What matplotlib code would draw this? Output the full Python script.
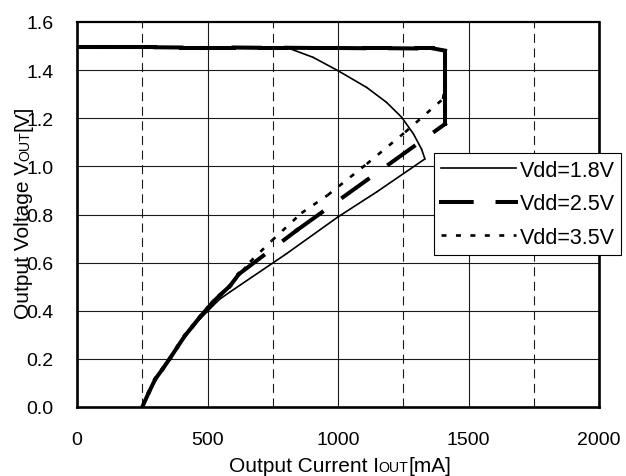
import matplotlib
matplotlib.use("Agg")
import matplotlib.pyplot as plt
from matplotlib.collections import LineCollection
from matplotlib.lines import Line2D
from matplotlib.transforms import IdentityTransform
from matplotlib.font_manager import FontProperties
import numpy as np

plt.rcParams["font.family"] = ["Liberation Sans", "DejaVu Sans"]
plt.rcParams["lines.scale_dashes"] = False

# ---- data: output current [mA] vs output voltage [V], traced from the short-circuit end ----
i_18 = [250, 275, 299, 328, 356, 385, 414, 443, 471, 498, 520, 548, 586, 800, 1000, 1150,
        1333, 1320, 1289, 1244, 1186, 1110, 1001, 905, 816, 600, 400, 200, 0]
v_18 = [0.0, 0.058, 0.11, 0.155, 0.198, 0.246, 0.292, 0.33, 0.366, 0.395, 0.42, 0.449, 0.478, 0.635, 0.79, 0.895,
        1.031, 1.072, 1.135, 1.204, 1.266, 1.328, 1.397, 1.453, 1.489, 1.491, 1.493, 1.494, 1.495]

i_25 = [250, 275, 300, 328, 356, 385, 414, 443, 471, 500, 521, 548, 586, 620, 843,
        1410, 1410, 1410, 1410, 1410, 1410, 1410, 1365, 1300, 1200, 1100, 1000, 900, 800,
        700, 600, 500, 400, 300, 200, 100, 0]
v_25 = [0.0, 0.06, 0.116, 0.158, 0.202, 0.25, 0.297, 0.336, 0.374, 0.41, 0.436, 0.465, 0.503, 0.552, 0.735,
        1.176, 1.23, 1.28, 1.33, 1.38, 1.43, 1.481, 1.490, 1.490, 1.491, 1.491, 1.492, 1.492, 1.493,
        1.493, 1.494, 1.494, 1.494, 1.495, 1.495, 1.495, 1.495]

i_35 = [250, 275, 300, 328, 356, 385, 414, 443, 471, 500, 521, 548, 575, 599, 663, 746, 860, 960,
        1110, 1257, 1402, 1410, 1410, 1410, 1410, 1365, 1300, 1200, 1100, 1000, 900, 800,
        700, 600, 500, 400, 300, 200, 100, 0]
v_35 = [0.0, 0.06, 0.116, 0.158, 0.202, 0.25, 0.297, 0.336, 0.374, 0.41, 0.436, 0.462, 0.49, 0.52, 0.603, 0.691, 0.806, 0.88,
        1.01, 1.142, 1.28, 1.33, 1.38, 1.43, 1.481, 1.490, 1.490, 1.491, 1.491, 1.492, 1.492, 1.493,
        1.493, 1.494, 1.494, 1.494, 1.495, 1.495, 1.495, 1.495]

labels = ["Vdd=1.8V", "Vdd=2.5V", "Vdd=3.5V"]
x_ticks = [0, 500, 1000, 1500, 2000]
y_ticks = [0.0, 0.2, 0.4, 0.6, 0.8, 1.0, 1.2, 1.4, 1.6]

FS_TICK = 14
FS_LABEL = 15
FS_LEGEND = 15.5

fig = plt.figure(figsize=(6.26, 4.77), dpi=100)
ax = fig.add_axes([77 / 626, 1 - 408 / 477, 522 / 626, 385 / 477])
ax.set_xlim(0, 2000)
ax.set_ylim(0, 1.6)

# grid: solid at major positions, dashed at the quarter positions
for x in [500, 1000, 1500]:
    ax.axvline(x, color="#1a1a1a", lw=0.8, zorder=1)
for x in [250, 750, 1250, 1750]:
    ax.axvline(x, color="#1a1a1a", lw=0.8, dashes=(6.5, 4.0), zorder=1)
for y in y_ticks[1:-1]:
    ax.axhline(y, color="#1a1a1a", lw=0.8, zorder=1)

ax.set_xticks(x_ticks)
ax.set_xticklabels([str(v) for v in x_ticks])
ax.set_yticks(y_ticks)
ax.set_yticklabels([f"{v:.1f}" for v in y_ticks])
ax.tick_params(length=0, labelsize=FS_TICK)
ax.tick_params(axis="x", pad=17)
ax.tick_params(axis="y", pad=17)
for side in ["left", "bottom", "right"]:
    ax.spines[side].set_linewidth(1.9)
ax.spines["top"].set_linewidth(1.6)


def draw_series(x, y, lw, dashes=None, capstyle="butt"):
    # each segment is stroked on its own, so the dash pattern restarts at every point
    pts = np.column_stack([x, y])
    segs = np.stack([pts[:-1], pts[1:]], axis=1)
    ls = "solid" if dashes is None else (0, dashes)
    lc = LineCollection(segs, colors="black", linewidths=lw, linestyles=[ls],
                        capstyle=capstyle, joinstyle="miter", zorder=3)
    ax.add_collection(lc)


style_18 = dict(lw=1.2)
style_25 = dict(lw=2.9, dashes=(22.1, 18.6))
style_35 = dict(lw=1.9, dashes=(3.6, 6.8))

draw_series(i_18, v_18, style_18["lw"], capstyle="round")
draw_series(i_35, v_35, style_35["lw"], style_35["dashes"], capstyle="butt")
draw_series(i_25, v_25, style_25["lw"], style_25["dashes"], capstyle="projecting")

handles = [
    Line2D([], [], color="black", lw=style_18["lw"]),
    Line2D([], [], color="black", lw=style_25["lw"], dashes=style_25["dashes"],
           dash_capstyle="projecting"),
    Line2D([], [], color="black", lw=style_35["lw"], dashes=style_35["dashes"]),
]
leg = ax.legend(handles, labels, loc="upper left",
                bbox_to_anchor=(434 / 626, 1 - 154 / 477), bbox_transform=fig.transFigure,
                fontsize=FS_LEGEND, handlelength=3.5, handletextpad=0.15, borderpad=0.32,
                labelspacing=0.58, borderaxespad=0, fancybox=False, framealpha=1,
                edgecolor="black")
leg.get_frame().set_linewidth(0.8)
leg.set_zorder(10)

# axis titles with small-cap "OUT" subscripts, laid out piece by piece in pixels
fig.canvas.draw()
renderer = fig.canvas.get_renderer()


def advance(text, size):
    w, h, d = renderer.get_text_width_height_descent(text, FontProperties(size=size), ismath=False)
    return w


def place_pieces(pieces, center, baseline, vertical=False):
    widths = [advance(s, fs) for s, fs in pieces]
    pos = center - sum(widths) / 2
    for (s, fs), w in zip(pieces, widths):
        if vertical:
            fig.text(baseline, pos, s, fontsize=fs, rotation=90, rotation_mode="anchor",
                     ha="left", va="baseline", transform=IdentityTransform())
        else:
            fig.text(pos, baseline, s, fontsize=fs, ha="left", va="baseline",
                     transform=IdentityTransform())
        pos += w


SUB = FS_LABEL * 0.68
place_pieces([("Output Current I", FS_LABEL), ("OUT", SUB), ("[mA]", FS_LABEL)],
             center=340, baseline=477 - 472)
place_pieces([("Output Voltage V", FS_LABEL), ("OUT", SUB), ("[V]", FS_LABEL)],
             center=477 - 212, baseline=29, vertical=True)

fig.savefig("out.png", dpi=100)
